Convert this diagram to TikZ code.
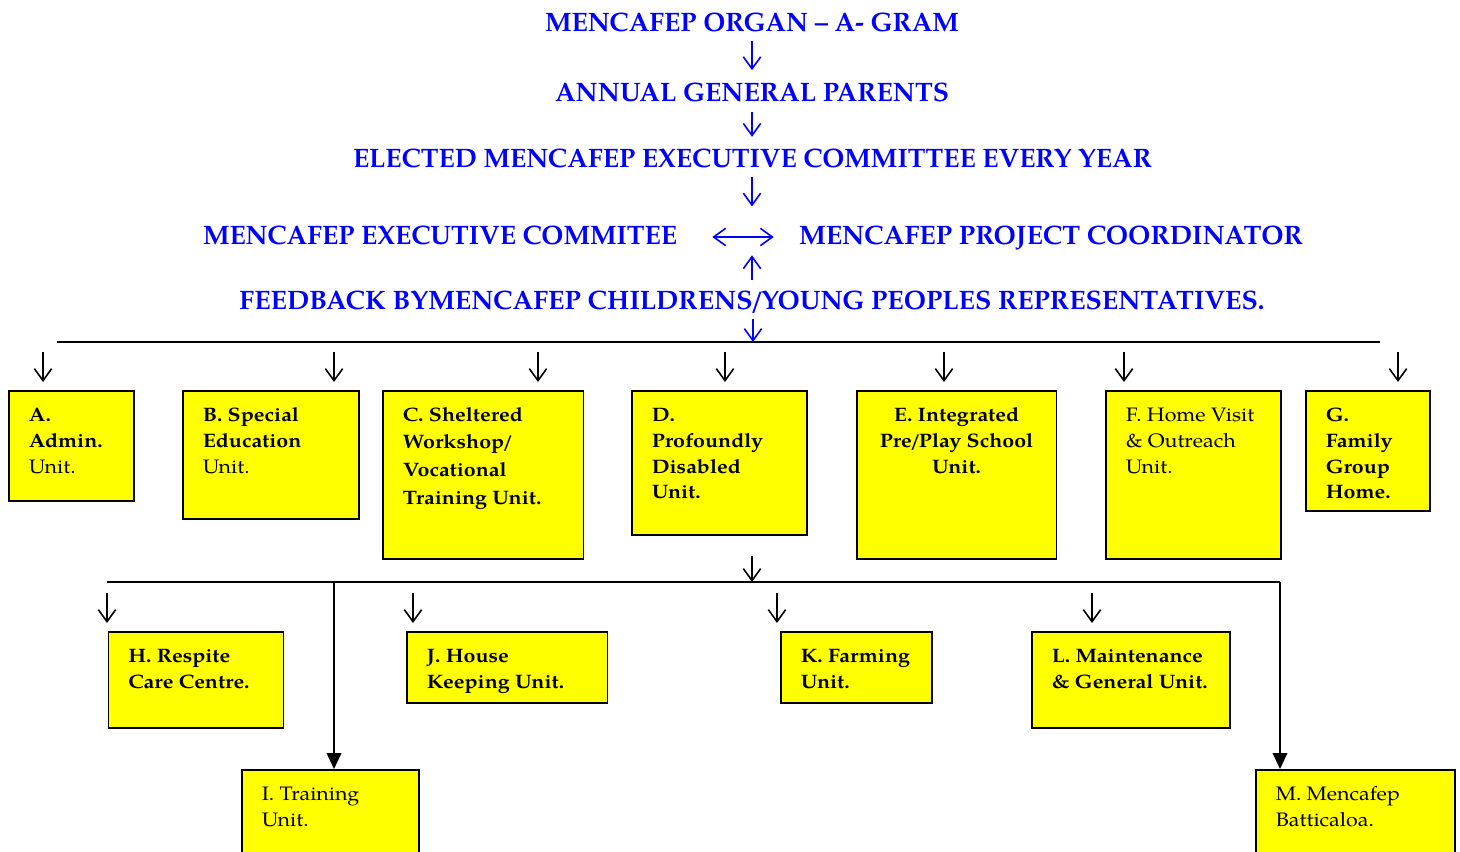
\documentclass[tikz,border=0pt]{standalone}
\usepackage{fontspec}
\setmainfont{TeX Gyre Pagella}
\newfontfamily\boxfont{TeX Gyre Pagella}[FakeStretch=1.1]
\usepackage{graphicx}
\usetikzlibrary{arrows.meta,calc}
\definecolor{tblue}{RGB}{0,0,255}
\definecolor{uyellow}{RGB}{255,255,0}
\newsavebox\fitbox
\newdimen\fitd
\newcommand\fitw[2]{\sbox\fitbox{#2}\fitd=\wd\fitbox\pgfmathsetmacro\fitr{#1/\fitd}\scalebox{\fitr}[1]{\usebox\fitbox}}
\newcommand\tsl{\kern-0.1em/\kern-0.1em}
\newcommand\unitbox[5]{\node[ubox, minimum width=#4*0.75pt, minimum height=#5*0.75pt] (#1) at (#2,#3) {};}
\tikzset{
  ttl/.style={text=tblue, font=\fontsize{20}{24}\selectfont\bfseries, inner sep=0pt, anchor=base},
  barr/.style={draw=tblue, line width=1.2pt, -{Straight Barb[length=9pt,width=13pt]}},
  bbarr/.style={draw=tblue, line width=1.2pt, {Straight Barb[length=9pt,width=13pt]}-{Straight Barb[length=9pt,width=13pt]}},
  karr/.style={draw=black, line width=1.2pt, -{Straight Barb[length=9pt,width=13pt]}},
  bigarr/.style={draw=black, line width=1.3pt, -{Triangle[length=12pt,width=11pt]}},
  trunk/.style={draw=black, line width=1.3pt},
  ubox/.style={draw=black, fill=uyellow, line width=1.2pt, inner sep=0pt, anchor=north west},
  utext/.style={inner sep=0pt, anchor=base west, font=\boxfont\fontsize{14.6}{19.5}\selectfont},
  ctext/.style={inner sep=0pt, anchor=base, font=\boxfont\fontsize{14.6}{19.5}\selectfont},
}
\begin{document}
\begin{tikzpicture}[x=0.75pt,y=-0.75pt]
\useasboundingbox (0,0) rectangle (1460,852);
\fill[white] (0,0) rectangle (1460,852);
\clip (0,0) rectangle (1460,852);

% titles
\node[ttl] (t1) at (752,31.7) {\fitw{310.5}{MENCAFEP ORGAN – A- GRAM}};
\node[ttl] (t2) at (752,101.7) {\fitw{295.5}{ANNUAL GENERAL PARENTS}};
\node[ttl] (t3) at (752.5,167.3) {\fitw{599.25}{ELECTED MENCAFEP EXECUTIVE COMMITTEE EVERY YEAR}};
\node[ttl] (t4L) at (440,245) {\fitw{355.5}{MENCAFEP EXECUTIVE COMMITEE}};
\node[ttl] (t4R) at (1051,245) {\fitw{378}{MENCAFEP PROJECT COORDINATOR}};
\node[ttl] (t5) at (752,309.3) {\fitw{768.75}{FEEDBACK BYMENCAFEP CHILDRENS\tsl YOUNG PEOPLES REPRESENTATIVES.}};

% blue arrows
\draw[barr] ($(t1.base)+(0,9)$) -- ($(t2.base)+(0,-31.5)$);
\draw[barr] ($(t2.base)+(0,10.5)$) -- ($(t3.base)+(-0.5,-30.5)$);
\draw[barr] ($(t3.base)+(-0.5,9.5)$) -- ($(t4L.base -| t3.base)+(-0.5,-38.5)$);
\draw[bbarr] ($(t4L.base east)+(35,-8)$) -- ($(t4R.base west)+(-25,-8)$);
\draw[barr] ($(t5.base)+(0,-29)$) -- ($(t5.base)+(0,-54)$);

% first trunk
\coordinate (k1a) at (57,342);
\coordinate (k1b) at (1380,342);
\draw[trunk] (k1a) -- (k1b);
\draw[barr] ($(t5.base)+(1,10)$) -- ($(t5.base |- k1a)+(1,0)$);

% unit boxes row 1
\unitbox{A}{8}{390}{125}{110}
\unitbox{B}{182}{390}{176}{128}
\unitbox{C}{382}{390}{200.5}{168}
\unitbox{D}{631}{390}{175}{144}
\unitbox{E}{856}{390}{199.5}{168}
\unitbox{F}{1105}{390}{175}{168}
\unitbox{G}{1305}{390}{124}{120}

\node[utext] (At) at ($(A.north west)+(20.5,31)$) {\begin{tabular}[t]{@{}l@{}}\textbf{A.}\\\textbf{Admin.}\\Unit.\end{tabular}};
\node[utext] (Bt) at ($(B.north west)+(20.5,31)$) {\begin{tabular}[t]{@{}l@{}}\textbf{B. Special}\\\textbf{Education}\\Unit.\end{tabular}};
\node[utext, font=\boxfont\fontsize{14.6}{20.8}\selectfont] (Ct) at ($(C.north west)+(20.5,31)$) {\begin{tabular}[t]{@{}l@{}}\textbf{C. Sheltered}\\\textbf{Workshop\kern-0.1em/}\\\textbf{Vocational}\\\textbf{Training Unit.}\end{tabular}};
\node[utext] (Dt) at ($(D.north west)+(20.5,31)$) {\begin{tabular}[t]{@{}l@{}}\textbf{D.}\\\textbf{Profoundly}\\\textbf{Disabled}\\\textbf{Unit.}\end{tabular}};
\node[ctext] (Et) at ($(E.north)+(0,31)$) {\begin{tabular}[t]{@{}c@{}}\textbf{E. Integrated}\\\textbf{Pre\tsl Play School}\\\textbf{Unit.}\end{tabular}};
\node[utext] (Ft) at ($(F.north west)+(20.5,31)$) {\begin{tabular}[t]{@{}l@{}}F. Home Visit\\\& Outreach\\Unit.\end{tabular}};
\node[utext] (Gt) at ($(G.north west)+(20.5,31)$) {\begin{tabular}[t]{@{}l@{}}\textbf{G.}\\\textbf{Family}\\\textbf{Group}\\\textbf{Home.}\end{tabular}};

% small arrows row 1
\coordinate (cA) at (43,352);
\coordinate (cB) at (334,352);
\coordinate (cC) at (538,352);
\coordinate (cD) at (725,352);
\coordinate (cE) at (944,352);
\coordinate (cF) at (1124,352);
\coordinate (cG) at (1398,352);
\foreach \n in {A,B,C,D,E,F,G}{
  \draw[karr, shorten >=6pt] (c\n) -- (c\n |- \n.north);
}

% second trunk
\coordinate (k2a) at (107,582);
\coordinate (k2b) at (1280,582);
\coordinate (k2i) at (334,582);
\coordinate (dD) at (752,556);
\draw[trunk] (k2a) -- (k2b);
\draw[karr] (dD) -- (dD |- k2a);

% row 3 boxes
\unitbox{H}{107.5}{631}{175}{96}
\unitbox{J}{406}{631}{200.5}{71}
\unitbox{K}{780}{631}{151}{71}
\unitbox{L}{1031}{631}{198}{96}
\unitbox{I}{241}{769}{177}{130}
\unitbox{M}{1255}{769}{199}{130}

\node[utext] (Ht) at ($(H.north west)+(20.5,31)$) {\begin{tabular}[t]{@{}l@{}}\textbf{H. Respite}\\\textbf{Care Centre.}\end{tabular}};
\node[utext] (Jt) at ($(J.north west)+(20.5,31)$) {\begin{tabular}[t]{@{}l@{}}\textbf{J. House}\\\textbf{Keeping Unit.}\end{tabular}};
\node[utext] (Kt) at ($(K.north west)+(20.5,31)$) {\begin{tabular}[t]{@{}l@{}}\textbf{K. Farming}\\\textbf{Unit.}\end{tabular}};
\node[utext] (Lt) at ($(L.north west)+(20.5,31)$) {\begin{tabular}[t]{@{}l@{}}\textbf{L. Maintenance}\\\textbf{\& General Unit.}\end{tabular}};
\node[utext] (It) at ($(I.north west)+(20.5,31)$) {\begin{tabular}[t]{@{}l@{}}I. Training\\Unit.\end{tabular}};
\node[utext] (Mt) at ($(M.north west)+(20.5,31)$) {\begin{tabular}[t]{@{}l@{}}M. Mencafep\\Batticaloa.\end{tabular}};

\coordinate (cH) at (107,593);
\coordinate (cJ) at (413,593);
\coordinate (cK) at (777,593);
\coordinate (cL) at (1092,593);
\foreach \n in {H,J,K,L}{
  \draw[karr, shorten >=6pt] (c\n) -- (c\n |- \n.north);
}
\draw[bigarr] (k2i) -- (k2i |- I.north);
\draw[bigarr] (k2b) -- (k2b |- M.north);
\end{tikzpicture}
\end{document}
